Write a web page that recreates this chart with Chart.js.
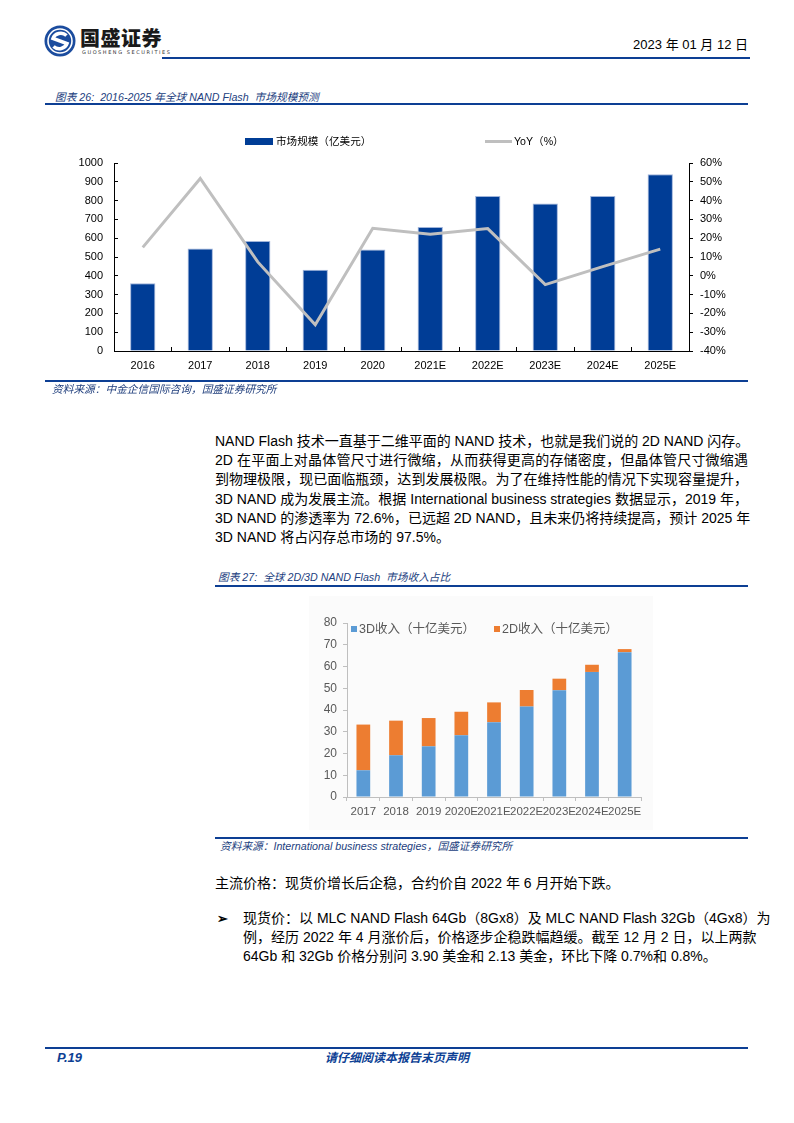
<!DOCTYPE html>
<html>
<head>
<meta charset="utf-8">
<script src="https://cdn.jsdelivr.net/npm/chart.js@4.4.1/dist/chart.umd.min.js"></script>
<style>
  html,body{margin:0;padding:0;background:#fff;}
  body{width:794px;height:1123px;position:relative;overflow:hidden;
       font-family:"Liberation Sans","Noto Sans CJK SC",sans-serif;color:#000;}
  .abs{position:absolute;}
  .rule{position:absolute;background:#0d3f94;}
  .cap{position:absolute;font-size:10.7px;font-style:italic;color:#22407e;white-space:nowrap;line-height:12px;}
  .para{position:absolute;font-size:14px;line-height:19.2px;}
  .para div{white-space:nowrap;height:19.2px;}
  .j{text-align:justify;text-align-last:justify;}
  .lg{position:absolute;white-space:nowrap;}
</style>
</head>
<body>
<script>
// ---------- data ----------
const years1 = ['2016','2017','2018','2019','2020','2021E','2022E','2023E','2024E','2025E'];
const marketSize = [360, 545, 585, 432, 540, 659, 824, 785, 824, 940];
const yoyPct = [15.1, 51.8, 7.4, -26.1, 25.3, 22.1, 25.1, -4.7, 4.9, 14.2];
const seriesNames1 = ['市场规模（亿美元）', 'YoY（%）'];

const years2 = ['2017','2018','2019','2020E','2021E','2022E','2023E','2024E','2025E'];
const revenue3D = [12.3, 19.2, 23.3, 28.4, 34.4, 41.6, 49.1, 57.5, 66.6];
const revenue2D = [21.0, 15.9, 13.0, 10.8, 9.1, 7.6, 5.3, 3.3, 1.4];
const seriesNames2 = ['3D收入（十亿美元）', '2D收入（十亿美元）'];
</script>

<!-- header -->
<svg class="abs" style="left:44px;top:25px" width="32" height="32" viewBox="0 0 32 32">
  <circle cx="16" cy="16" r="15.5" fill="#1b4c9e"/>
  <circle cx="16" cy="16" r="12" fill="none" stroke="#fff" stroke-width="1.6"/>
  <path d="M22.5 10.5 A8 7 0 0 0 9 13.5 L23 18.5 A8 7 0 0 1 9.5 21.5" stroke="#fff" stroke-width="3.6" fill="none"/>
</svg>
<div class="abs" style="left:80px;top:27px;font-size:20px;font-weight:900;font-family:'Noto Sans CJK SC';line-height:22px;color:#1a1a1a;letter-spacing:0.5px">国盛证券</div>
<div class="abs" style="left:82px;top:49px;font-size:5px;line-height:6px;letter-spacing:1.55px;color:#333;font-family:'DejaVu Sans'">GUOSHENG SECURITIES</div>
<div class="abs" style="right:46px;top:37px;font-size:13px;line-height:16px;white-space:nowrap">2023 年 01 月 12 日</div>
<div class="rule" style="left:162px;top:57px;width:588px;height:2px"></div>

<!-- caption 26 -->
<div class="cap" style="left:55px;top:91px">图表 26:&nbsp; 2016-2025 年全球 NAND Flash&nbsp; 市场规模预测</div>
<div class="rule" style="left:45px;top:103px;width:703px;height:2px"></div>

<!-- chart 1 -->
<canvas id="c1" class="abs" style="left:40px;top:125px" width="710" height="256"></canvas>
<div id="lg1"></div>

<div class="rule" style="left:45px;top:380px;width:703px;height:2px"></div>
<div class="cap" style="left:52px;top:383px">资料来源：中金企信国际咨询，国盛证券研究所</div>

<!-- paragraph -->
<div class="para" style="left:215px;top:432px;width:533px">
  <div class="j">NAND Flash 技术一直基于二维平面的 NAND 技术，也就是我们说的 2D NAND 闪存。</div>
  <div class="j">2D 在平面上对晶体管尺寸进行微缩，从而获得更高的存储密度，但晶体管尺寸微缩遇</div>
  <div class="j">到物理极限，现已面临瓶颈，达到发展极限。为了在维持性能的情况下实现容量提升，</div>
  <div class="j">3D NAND 成为发展主流。根据 International business strategies 数据显示，2019 年，</div>
  <div class="j">3D NAND 的渗透率为 72.6%，已远超 2D NAND，且未来仍将持续提高，预计 2025 年</div>
  <div>3D NAND 将占闪存总市场的 97.5%。</div>
</div>

<!-- caption 27 -->
<div class="cap" style="left:218px;top:571px">图表 27:&nbsp; 全球 2D/3D NAND Flash&nbsp; 市场收入占比</div>
<div class="rule" style="left:215px;top:585px;width:533px;height:2px"></div>

<!-- chart 2 -->
<div class="abs" style="left:309px;top:596px;width:344px;height:234px;background:#fbfbfb"></div>
<canvas id="c2" class="abs" style="left:309px;top:596px" width="344" height="234"></canvas>
<div id="lg2"></div>

<div class="rule" style="left:215px;top:837px;width:533px;height:2px"></div>
<div class="cap" style="left:220px;top:840px">资料来源：International business strategies，国盛证券研究所</div>

<div class="para" style="left:215px;top:874px;width:533px">
  <div>主流价格：现货价增长后企稳，合约价自 2022 年 6 月开始下跌。</div>
</div>
<div class="abs" style="left:217px;top:910px;font-size:13px;line-height:18px;font-weight:bold">➢</div>
<div class="para" style="left:243px;top:909px;width:505px;line-height:19px">
  <div class="j" style="height:19px">现货价：以 MLC NAND Flash 64Gb（8Gx8）及 MLC NAND Flash 32Gb（4Gx8）为</div>
  <div class="j" style="height:19px">例，经历 2022 年 4 月涨价后，价格逐步企稳跌幅趋缓。截至 12 月 2 日，以上两款</div>
  <div style="height:19px">64Gb 和 32Gb 价格分别问 3.90 美金和 2.13 美金，环比下降 0.7%和 0.8%。</div>
</div>

<!-- footer -->
<div class="rule" style="left:45px;top:1047px;width:703px;height:2px"></div>
<div class="abs" style="left:57px;top:1050px;font-size:13px;font-weight:bold;font-style:italic;color:#0d3f94;line-height:16px">P.19</div>
<div class="abs" style="left:325px;top:1050px;font-size:12px;font-weight:bold;font-style:italic;color:#0d3f94;line-height:16px;white-space:nowrap">请仔细阅读本报告末页声明</div>

<script>
Chart.defaults.font.family = "'Liberation Sans','Noto Sans CJK SC',sans-serif";
Chart.defaults.animation = false;

const BLUE1 = '#003d96', GRAY1 = '#bfbfbf';
const BLUE2 = '#5b9bd5', ORANGE2 = '#ed7d31';

// legends (HTML, built from the series names)
(function(){
  const el = document.getElementById('lg1');
  el.innerHTML =
    `<div class="abs" style="left:245px;top:138px;width:28px;height:7px;background:${BLUE1}"></div>` +
    `<div class="lg" style="left:276px;top:135px;font-size:10.6px;line-height:13px">${seriesNames1[0]}</div>` +
    `<div class="abs" style="left:485px;top:140px;width:27px;height:3px;background:${GRAY1}"></div>` +
    `<div class="lg" style="left:514px;top:135px;font-size:10.6px;line-height:13px">${seriesNames1[1]}</div>`;
  const el2 = document.getElementById('lg2');
  el2.innerHTML =
    `<div class="abs" style="left:351px;top:626px;width:6px;height:6px;background:${BLUE2}"></div>` +
    `<div class="lg" style="left:359px;top:621px;font-size:12.5px;line-height:16px;color:#595959">${seriesNames2[0]}</div>` +
    `<div class="abs" style="left:494px;top:626px;width:6px;height:6px;background:${ORANGE2}"></div>` +
    `<div class="lg" style="left:502px;top:621px;font-size:12.5px;line-height:16px;color:#595959">${seriesNames2[1]}</div>`;
})();

new Chart(document.getElementById('c1'), {
  type: 'bar',
  data: {
    labels: years1,
    datasets: [
      { type:'line', label: seriesNames1[1], data: yoyPct, yAxisID:'y1', order:0,
        borderColor: GRAY1, borderWidth: 3, pointRadius: 0, tension: 0, fill:false },
      { type:'bar', label: seriesNames1[0], data: marketSize, yAxisID:'y', order:1,
        backgroundColor: BLUE1, borderColor:'#9fb4da', borderWidth:{left:1,right:1,top:1,bottom:0},
        categoryPercentage: 1, barPercentage: 0.44 }
    ]
  },
  options: {
    responsive:false,
    layout:{ padding:{ top:38, left:0, right:0, bottom:0 } },
    plugins:{ legend:{display:false}, tooltip:{enabled:false} },
    scales:{
      x:{
        grid:{ display:true, drawOnChartArea:false, drawTicks:true, tickLength:-4, color:'#000', offset:true },
        border:{ display:true, color:'#000', width:1 },
        ticks:{ color:'#000', font:{size:11}, padding:12, autoSkip:false, maxRotation:0 },
        afterFit: s => { s.height = 30; }
      },
      y:{
        position:'left', min:0, max:1000,
        grid:{ display:true, drawOnChartArea:false, drawTicks:true, tickLength:-4, color:'#000' },
        border:{ display:true, color:'#000', width:1 },
        ticks:{ stepSize:100, color:'#000', font:{size:11}, padding:15, callback: v => String(v) },
        afterFit: s => { s.width = 74; }
      },
      y1:{
        position:'right', min:-40, max:60,
        grid:{ display:true, drawOnChartArea:false, drawTicks:true, tickLength:4, color:'#000' },
        border:{ display:true, color:'#000', width:1 },
        ticks:{ stepSize:10, color:'#000', font:{size:11}, padding:7, callback: v => v + '%' },
        afterFit: s => { s.width = 61; }
      }
    }
  }
});

new Chart(document.getElementById('c2'), {
  type: 'bar',
  data: {
    labels: years2,
    datasets: [
      { label: seriesNames2[0], data: revenue3D, backgroundColor: BLUE2, categoryPercentage:1, barPercentage:0.42 },
      { label: seriesNames2[1], data: revenue2D, backgroundColor: ORANGE2, categoryPercentage:1, barPercentage:0.42 }
    ]
  },
  options: {
    responsive:false,
    layout:{ padding:{ top:27, right:12, left:0, bottom:0 } },
    plugins:{ legend:{display:false}, tooltip:{enabled:false} },
    scales:{
      x:{
        stacked:true,
        grid:{ display:true, drawOnChartArea:false, drawTicks:true, tickLength:4, color:'#bfbfbf', offset:true },
        border:{ display:true, color:'#bfbfbf', width:1 },
        ticks:{ color:'#595959', font:{size:11.5}, padding:4, autoSkip:false, maxRotation:0, minRotation:0 },
        afterFit: s => { s.height = 33; }
      },
      y:{
        stacked:true, min:0, max:80,
        grid:{ display:true, drawOnChartArea:false, drawTicks:true, tickLength:4, color:'#bfbfbf' },
        border:{ display:true, color:'#bfbfbf', width:1 },
        ticks:{ stepSize:10, color:'#595959', font:{size:12}, padding:6 },
        afterFit: s => { s.width = 38; }
      }
    }
  }
});
</script>
</body>
</html>
